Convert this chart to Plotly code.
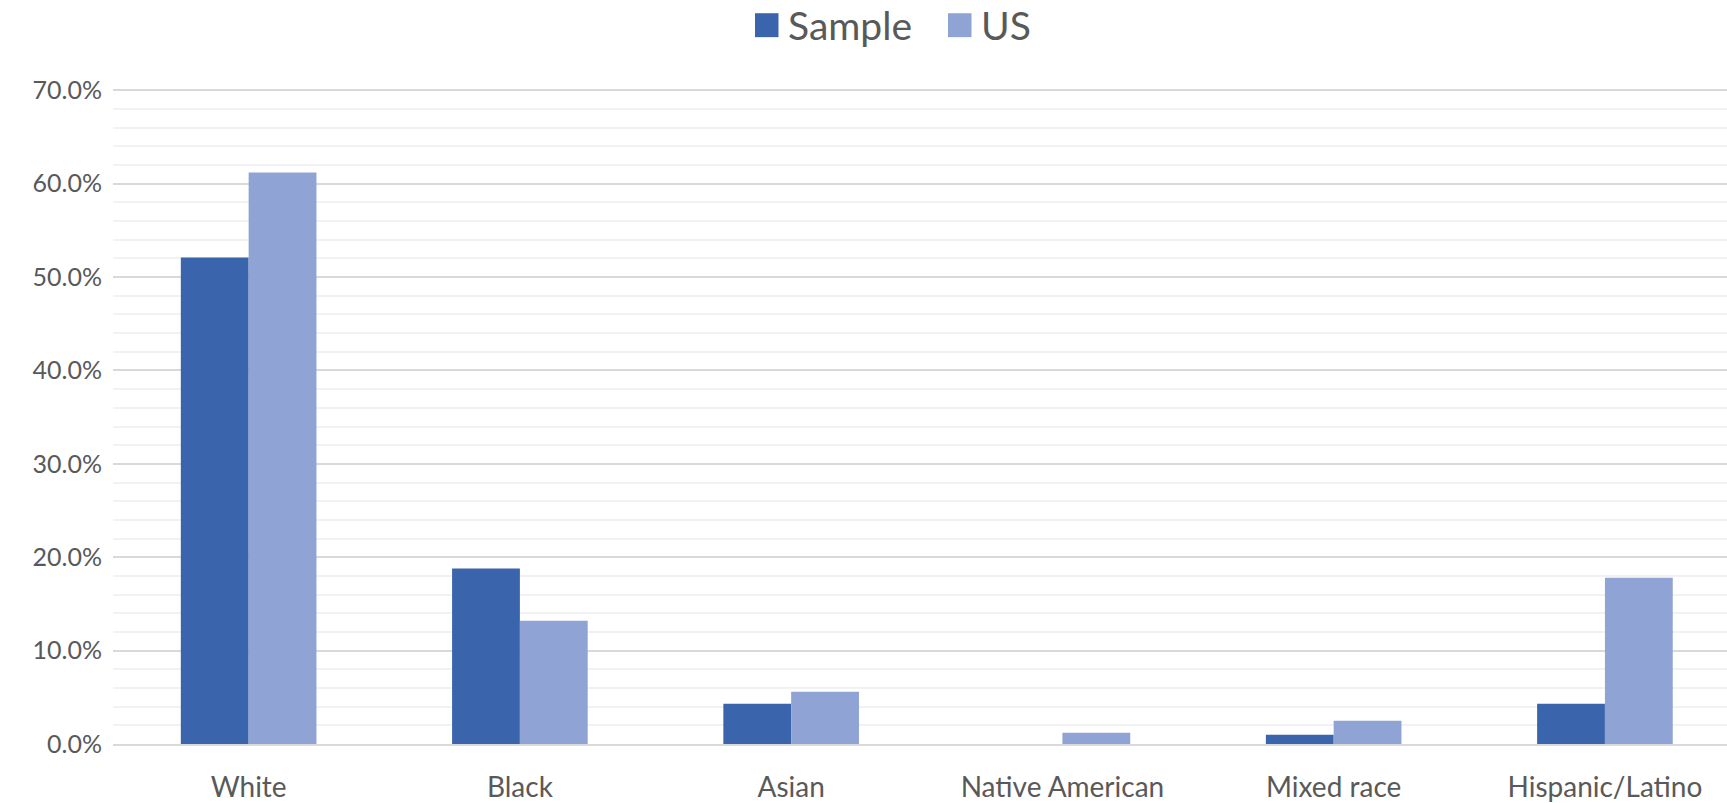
import plotly.graph_objects as go

# Share of respondents by race / ethnicity vs. US population
categories = ["White", "Black", "Asian", "Native American", "Mixed race", "Hispanic/Latino"]
sample_share = [0.521, 0.188, 0.043, 0.0, 0.010, 0.043]
us_share = [0.612, 0.132, 0.056, 0.012, 0.025, 0.178]
y_tick_values = [0.0, 0.1, 0.2, 0.3, 0.4, 0.5, 0.6, 0.7]

SAMPLE_COLOR = "#3A64AC"
US_COLOR = "#8FA3D5"
TEXT_COLOR = "#595959"
FONT = "Lato, 'Open Sans', sans-serif"

W, H = 1727, 803
ML, MR, MT, MB = 113, 0, 88, 57
plot_w = W - ML - MR
plot_h = H - MT - MB


def px_x(x):
    return (x - ML) / plot_w


def px_y(y):
    return (H - MB - y) / plot_h


fig = go.Figure()
fig.add_trace(go.Bar(name="Sample", x=categories, y=sample_share,
                     marker=dict(color=SAMPLE_COLOR, line=dict(width=0)),
                     showlegend=False))
fig.add_trace(go.Bar(name="US", x=categories, y=us_share,
                     marker=dict(color=US_COLOR, line=dict(width=0)),
                     showlegend=False))

# Legend drawn as swatches + labels above the plot
legend_items = [("Sample", SAMPLE_COLOR, 755, 790), ("US", US_COLOR, 948, 983)]
for label, color, sx, tx in legend_items:
    fig.add_shape(type="rect", xref="paper", yref="paper",
                  x0=px_x(sx), x1=px_x(sx + 23.5), y0=px_y(37), y1=px_y(13),
                  fillcolor=color, line=dict(width=0))
    fig.add_annotation(text=label, xref="paper", yref="paper",
                       x=px_x(tx - 4), y=px_y(25), xanchor="left", yanchor="middle",
                       showarrow=False, font=dict(family=FONT, size=39, color=TEXT_COLOR))

fig.update_layout(
    width=W, height=H,
    margin=dict(l=ML, r=MR, t=MT, b=MB, pad=0),
    paper_bgcolor="white", plot_bgcolor="white",
    barmode="group", bargap=0.5, bargroupgap=0,
    font=dict(family=FONT, color=TEXT_COLOR),
    showlegend=False,
)
fig.update_xaxes(
    range=[-0.5, 5.45],
    showgrid=False, zeroline=False,
    showline=True, linecolor="#D9D9D9", linewidth=1.5,
    ticks="", tickfont=dict(family=FONT, size=28, color=TEXT_COLOR),
    ticklabelstandoff=18,
)
fig.update_yaxes(
    range=[0, 0.7025], tickvals=y_tick_values, tickformat=".1%",
    showgrid=True, gridcolor="#D9D9D9", gridwidth=1.5,
    minor=dict(dtick=0.02, showgrid=True, gridcolor="#F2F2F2", gridwidth=1.5),
    zeroline=False, showline=False, ticks="",
    tickfont=dict(family=FONT, size=25, color=TEXT_COLOR),
    ticklabelstandoff=10,
)

fig.write_html("out.html")
